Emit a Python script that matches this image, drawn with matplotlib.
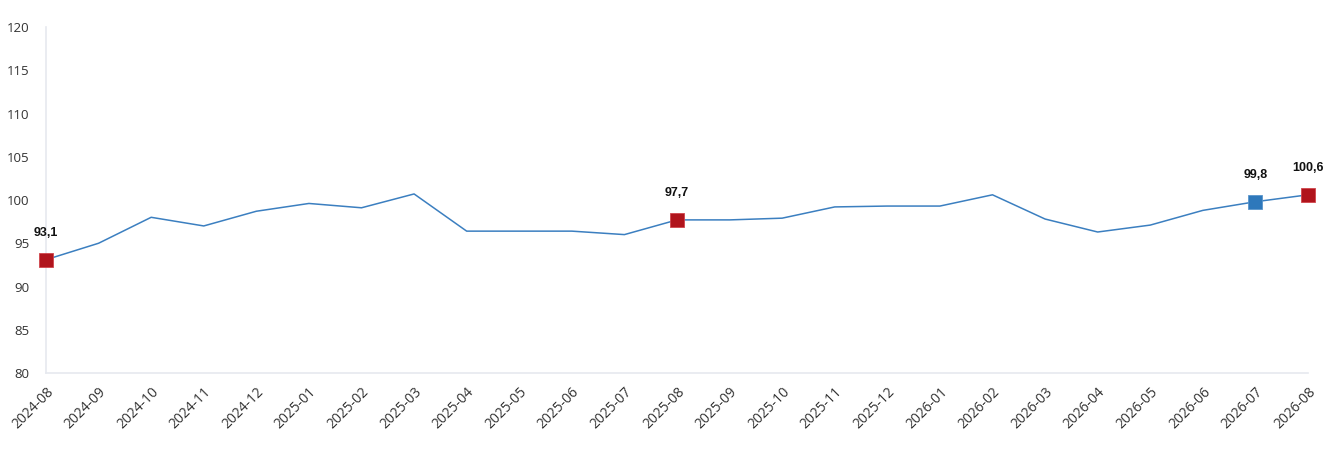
import matplotlib
matplotlib.use("Agg")
import matplotlib.pyplot as plt

months = ["2024-08", "2024-09", "2024-10", "2024-11", "2024-12",
          "2025-01", "2025-02", "2025-03", "2025-04", "2025-05",
          "2025-06", "2025-07", "2025-08", "2025-09", "2025-10",
          "2025-11", "2025-12", "2026-01", "2026-02", "2026-03",
          "2026-04", "2026-05", "2026-06", "2026-07", "2026-08"]
values = [93.1, 95.0, 98.0, 97.0, 98.7,
          99.6, 99.1, 100.7, 96.4, 96.4,
          96.4, 96.0, 97.7, 97.7, 97.9,
          99.2, 99.3, 99.3, 100.6, 97.8,
          96.3, 97.1, 98.8, 99.8, 100.6]

# highlighted points: index, colour
red_points = [0, 12, 24]
blue_points = [23]

plt.rcParams['font.family'] = ['Open Sans', 'DejaVu Sans']

fig = plt.figure(figsize=(13.27, 4.61), dpi=100)
ax = fig.add_axes([46 / 1327, 1 - 373 / 461, (1308 - 46) / 1327, (373 - 27) / 461])

x = list(range(len(months)))
ax.plot(x, values, color="#3b7fc0", linewidth=1.1, zorder=2)

for i in red_points:
    ax.plot(x[i], values[i], marker="s", markersize=10, color="#b0141c",
            markeredgecolor="#d0454c", markeredgewidth=0.6, zorder=3,
            clip_on=False)
for i in blue_points:
    ax.plot(x[i], values[i], marker="s", markersize=10, color="#2e78bb",
            markeredgecolor="#5a95cc", markeredgewidth=0.6, zorder=3,
            clip_on=False)

for i in red_points + blue_points:
    ax.annotate(f"{values[i]:.1f}".replace(".", ","), (x[i], values[i]),
                xytext=(0, 19.5), textcoords="offset points", ha="center",
                va="center", fontsize=9, fontweight="bold",
                family=["Liberation Sans", "DejaVu Sans"], color="#111111",
                annotation_clip=False)

ax.set_xlim(0, len(months) - 1)
ax.set_ylim(80, 120)
ax.set_yticks(range(80, 121, 5))
ax.set_xticks(x)
ax.set_xticklabels(months, rotation=45, ha="right", rotation_mode="anchor")
ax.tick_params(axis="both", length=0, labelcolor="#333333")
ax.tick_params(axis="x", pad=8, labelsize=10)
ax.tick_params(axis="y", pad=12, labelsize=9.5)

for s in ["top", "right"]:
    ax.spines[s].set_visible(False)
for s in ["left", "bottom"]:
    ax.spines[s].set_color("#e6e9ef")
    ax.spines[s].set_linewidth(1.2)

fig.savefig("out.png", dpi=100)
